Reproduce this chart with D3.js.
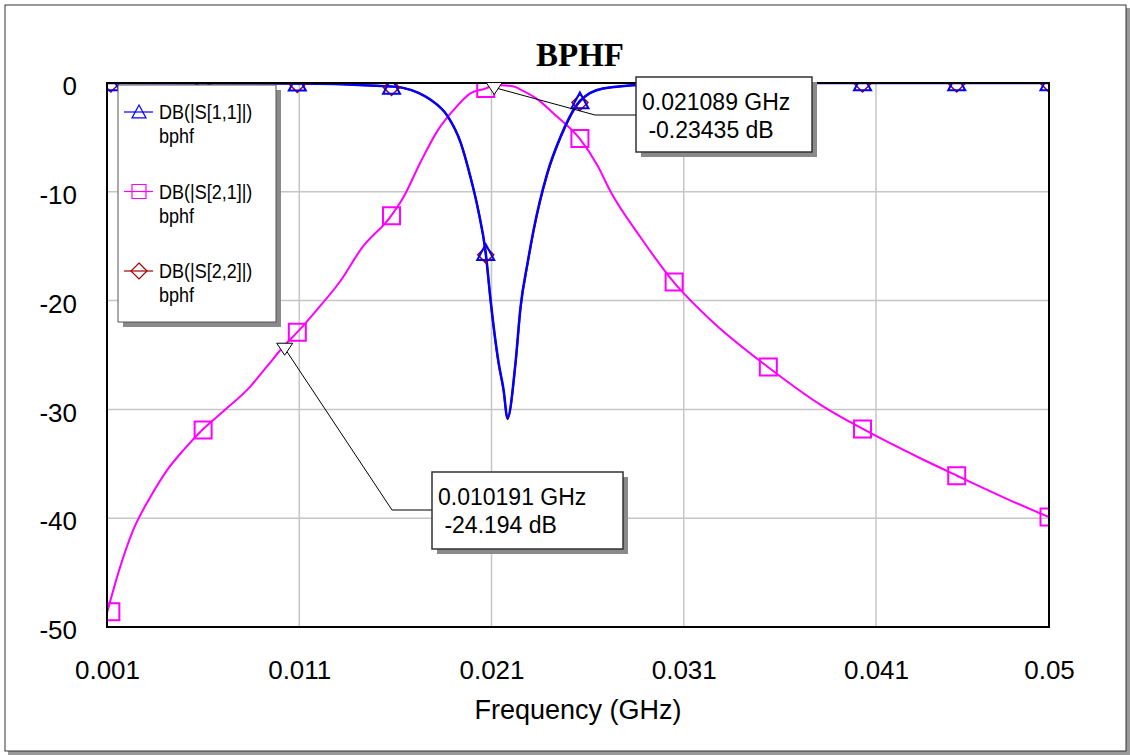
<!DOCTYPE html>
<html>
<head>
<meta charset="utf-8">
<script src="https://cdn.jsdelivr.net/npm/d3@7"></script>
<style>
    body { margin: 0; background: #fff; }
    svg text { font-family: "Liberation Sans", Arial, sans-serif; }
</style>
</head>
<body>
<div id="chart"></div>
<script>
// frequency ticks (GHz) and dB ticks
const freqTicks = [0.001, 0.011, 0.021, 0.031, 0.041, 0.05];
const freqTickLabels = ["0.001", "0.011", "0.021", "0.031", "0.041", "0.05"];
const dbTicks = [0, -10, -20, -30, -40, -50];

// DB(|S[2,1]|) trace
const s21Freq = [0.001, 0.00168, 0.00236, 0.00324, 0.00412, 0.0050, 0.00595, 0.00704, 0.00845, 0.0093, 0.010191, 0.0109,
    0.01194, 0.01314, 0.01424, 0.01574, 0.01642, 0.0173, 0.01819, 0.01902, 0.0199, 0.0207, 0.021089, 0.0215, 0.0222,
    0.02251, 0.0234, 0.02423, 0.02558, 0.02652, 0.0272, 0.02876, 0.03048, 0.03241, 0.03538, 0.03814, 0.04032, 0.0432,
    0.04522, 0.04803, 0.05];
const s21Db = [-48.7, -44.5, -41.1, -38.1, -35.6, -33.7, -31.9, -30.2, -27.9, -26.1, -24.194, -22.9,
    -20.8, -18.2, -15.2, -12.3, -10.5, -7.3, -4.4, -2.5, -0.95, -0.5, -0.234, -0.2, -0.35,
    -0.6, -1.5, -2.8, -5.1, -7.6, -10.0, -14.2, -18.3, -21.8, -26.1, -29.6, -31.8, -34.4,
    -36.1, -38.4, -39.9];

// DB(|S[1,1]|) trace
const s11Freq = [0.001, 0.008, 0.012, 0.0138, 0.015, 0.0158, 0.0164, 0.0172, 0.0178, 0.0187, 0.0194, 0.0199, 0.0203,
    0.0207, 0.02095, 0.02137, 0.02163, 0.02183, 0.02225, 0.02251, 0.02288, 0.02319, 0.0239, 0.0246, 0.0256, 0.0268,
    0.029, 0.032, 0.036, 0.05];
const s11Db = [-0.01, -0.02, -0.06, -0.15, -0.25, -0.32, -0.45, -0.9, -1.5, -3.0, -5.5, -8.6, -11.6,
    -15.6, -19.9, -25.7, -28.2, -30.8, -25.7, -20.6, -16.5, -13.5, -8.3, -4.9, -1.65, -0.5,
    -0.15, -0.05, -0.01, 0];

// DB(|S[2,2]|) trace (lies under S[1,1])
const s22Freq = [0.001, 0.008, 0.012, 0.0138, 0.015, 0.0158, 0.0164, 0.0172, 0.0178, 0.0187, 0.0194, 0.0199, 0.0203,
    0.0207, 0.02095, 0.02137, 0.02163, 0.02183, 0.02225, 0.02251, 0.02288, 0.02319, 0.0239, 0.0246, 0.0256, 0.0268,
    0.029, 0.032, 0.036, 0.05];
const s22Db = [-0.01, -0.02, -0.06, -0.15, -0.25, -0.32, -0.45, -0.9, -1.5, -3.0, -5.5, -8.6, -11.6,
    -15.7, -20.0, -25.8, -28.3, -30.9, -25.8, -20.7, -16.6, -13.6, -8.4, -5.0, -1.7, -0.5,
    -0.15, -0.05, -0.01, 0];

// symbol positions on each trace
const symFreq = [0.0012, 0.0060, 0.0109, 0.0158, 0.0207, 0.0256, 0.0305, 0.0354, 0.0403, 0.0452, 0.05];
const s11Sym = [0, 0, -0.03, -0.32, -15.6, -1.65, -0.1, 0, 0, 0, 0];
const s21Sym = [-48.6, -31.9, -22.9, -12.2, -0.5, -5.1, -18.3, -26.1, -31.8, -36.1, -39.9];
const s22Sym = [0, 0, -0.03, -0.32, -15.7, -1.7, -0.1, 0, 0, 0, 0];

// marker readouts
const mkFreq = [0.021089, 0.010191];
const mkDb = [-0.23435, -24.194];
const mkText = [["0.021089 GHz", " -0.23435 dB"], ["0.010191 GHz", " -24.194 dB"]];

const legendNames = ["DB(|S[1,1]|)", "DB(|S[2,1]|)", "DB(|S[2,2]|)"];
const legendSub = ["bphf", "bphf", "bphf"];

document.addEventListener("DOMContentLoaded", function () {
    const w = 1130, h = 755;
    const left = 107, right = 1049, top = 83, bottom = 627;

    const svg = d3.select("#chart").append("svg").attr("width", w).attr("height", h);

    // outer frame with shadow
    svg.append("rect").attr("x", 8).attr("y", 8).attr("width", 1122).attr("height", 747).attr("fill", "#9a9a9a");
    svg.append("rect").attr("x", 5).attr("y", 5).attr("width", 1121).attr("height", 746)
        .attr("fill", "#fff").attr("stroke", "#333").attr("stroke-width", 1);

    const x = d3.scaleLinear().domain([0.001, 0.05]).range([left, right]);
    const y = d3.scaleLinear().domain([0, -50]).range([top, bottom]);

    // grid
    svg.append("g").selectAll("line").data(freqTicks.slice(1, -1)).enter().append("line")
        .attr("x1", d => x(d)).attr("x2", d => x(d)).attr("y1", top).attr("y2", bottom)
        .attr("stroke", "#c6c6c6").attr("stroke-width", 1.5);
    svg.append("g").selectAll("line").data(dbTicks.slice(1, -1)).enter().append("line")
        .attr("y1", d => y(d)).attr("y2", d => y(d)).attr("x1", left).attr("x2", right)
        .attr("stroke", "#c6c6c6").attr("stroke-width", 1.5);

    // axes (labels only)
    const xAxis = d3.axisBottom(x).tickValues(freqTicks).tickFormat((d, i) => freqTickLabels[i]).tickSize(0).tickPadding(34);
    const gx = svg.append("g").attr("transform", "translate(0," + bottom + ")").call(xAxis);
    const yAxis = d3.axisLeft(y).tickValues(dbTicks).tickFormat(d => String(d)).tickSize(0).tickPadding(30);
    const gy = svg.append("g").attr("transform", "translate(" + left + ",0)").call(yAxis);
    [gx, gy].forEach(g => {
        g.select(".domain").remove();
        g.selectAll("text").attr("font-size", 26).attr("fill", "#000").style("font-family", "Liberation Sans, Arial, sans-serif");
    });
    gy.selectAll("text").attr("dy", "0.45em");

    svg.append("text").attr("x", 578).attr("y", 719).attr("text-anchor", "middle")
        .attr("font-size", 27).text("Frequency (GHz)");

    svg.append("text").attr("x", 580).attr("y", 66).attr("text-anchor", "middle")
        .attr("font-size", 33).attr("font-weight", "bold")
        .style("font-family", "Liberation Serif, Times New Roman, serif").text("BPHF");

    // traces
    svg.append("clipPath").attr("id", "plotclip").append("rect")
        .attr("x", left).attr("y", top).attr("width", right - left).attr("height", bottom - top);
    const plot = svg.append("g").attr("clip-path", "url(#plotclip)");

    const line = d3.line().x(d => x(d[0])).y(d => y(d[1])).curve(d3.curveMonotoneX);
    const zip = (a, b) => a.map((v, i) => [v, b[i]]);

    plot.append("path").datum(zip(s21Freq, s21Db)).attr("d", line)
        .attr("fill", "none").attr("stroke", "#ff00ff").attr("stroke-width", 2);
    plot.append("path").datum(zip(s22Freq, s22Db)).attr("d", line)
        .attr("fill", "none").attr("stroke", "#a00000").attr("stroke-width", 2);
    plot.append("path").datum(zip(s11Freq, s11Db)).attr("d", line)
        .attr("fill", "none").attr("stroke", "#0000ff").attr("stroke-width", 2.5);

    const diamond = s => "M0," + (-s) + "L" + s + ",0L0," + s + "L" + (-s) + ",0Z";
    const square = s => "M" + (-s) + "," + (-s) + "H" + s + "V" + s + "H" + (-s) + "Z";
    const tri = s => "M0," + (-s) + "L" + s + "," + (s * 0.85) + "L" + (-s) + "," + (s * 0.85) + "Z";

    plot.append("g").selectAll("path").data(zip(symFreq, s22Sym)).enter().append("path")
        .attr("d", diamond(8)).attr("transform", d => "translate(" + x(d[0]) + "," + (y(d[1]) + 1) + ")")
        .attr("fill", "none").attr("stroke", "#a00000").attr("stroke-width", 1.5);
    plot.append("g").selectAll("path").data(zip(symFreq, s21Sym)).enter().append("path")
        .attr("d", square(8.5)).attr("transform", d => "translate(" + x(d[0]) + "," + y(d[1]) + ")")
        .attr("fill", "none").attr("stroke", "#ff00ff").attr("stroke-width", 2);
    plot.append("g").selectAll("path").data(zip(symFreq, s11Sym)).enter().append("path")
        .attr("d", tri(8.5)).attr("transform", d => "translate(" + x(d[0]) + "," + y(d[1]) + ")")
        .attr("fill", "none").attr("stroke", "#0000ff").attr("stroke-width", 2);

    // plot frame
    svg.append("rect").attr("x", left).attr("y", top).attr("width", right - left).attr("height", bottom - top)
        .attr("fill", "none").attr("stroke", "#000").attr("stroke-width", 2);

    // legend
    const lg = svg.append("g");
    lg.append("rect").attr("x", 123).attr("y", 90).attr("width", 158).attr("height", 237).attr("fill", "#8a8a8a");
    lg.append("rect").attr("x", 118).attr("y", 85).attr("width", 158).attr("height", 237)
        .attr("fill", "#fff").attr("stroke", "#555").attr("stroke-width", 1);
    const legColors = ["#0000ff", "#ff00ff", "#a00000"];
    const legSyms = [tri(7), square(7), diamond(8)];
    legendNames.forEach((name, i) => {
        const ly = 112 + i * 79.5;
        lg.append("line").attr("x1", 124).attr("x2", 153).attr("y1", ly).attr("y2", ly)
            .attr("stroke", legColors[i]).attr("stroke-width", 1.2);
        lg.append("path").attr("d", legSyms[i]).attr("transform", "translate(139," + ly + ")")
            .attr("fill", "none").attr("stroke", legColors[i]).attr("stroke-width", 1.2);
        lg.append("text").attr("transform", "translate(159," + (ly + 7) + ") scale(0.9,1)")
            .attr("font-size", 20).text(name);
        lg.append("text").attr("transform", "translate(159," + (ly + 31) + ") scale(0.9,1)")
            .attr("font-size", 20).text(legendSub[i]);
    });

    // marker readouts
    const boxes = [
        { x: 636, y: 77, w: 176, h: 75, elbowX: 595, elbowY: 115 },
        { x: 432, y: 472, w: 191, h: 77, elbowX: 392, elbowY: 510 }
    ];
    mkFreq.forEach((f, i) => {
        const px = x(f), py = y(mkDb[i]);
        const b = boxes[i];
        svg.append("path")
            .attr("d", "M" + (px + 1) + "," + (py + 2) + "L" + b.elbowX + "," + b.elbowY + "H" + b.x)
            .attr("fill", "none").attr("stroke", "#000").attr("stroke-width", 1);
        svg.append("path")
            .attr("d", "M" + (px - 7) + "," + (py - 3) + "H" + (px + 9) + "L" + (px + 1) + "," + (py + 9) + "Z")
            .attr("fill", "#fff").attr("stroke", "#000").attr("stroke-width", 1);
        svg.append("rect").attr("x", b.x + 5).attr("y", b.y + 5).attr("width", b.w).attr("height", b.h).attr("fill", "#8a8a8a");
        svg.append("rect").attr("x", b.x).attr("y", b.y).attr("width", b.w).attr("height", b.h)
            .attr("fill", "#fff").attr("stroke", "#333").attr("stroke-width", 1.5);
        svg.append("text").attr("x", b.x + 6).attr("y", b.y + 33).attr("font-size", 23)
            .attr("xml:space", "preserve").style("white-space", "pre").text(mkText[i][0]);
        svg.append("text").attr("x", b.x + 6).attr("y", b.y + 61).attr("font-size", 23)
            .attr("xml:space", "preserve").style("white-space", "pre").text(mkText[i][1]);
    });
});
</script>
</body>
</html>
